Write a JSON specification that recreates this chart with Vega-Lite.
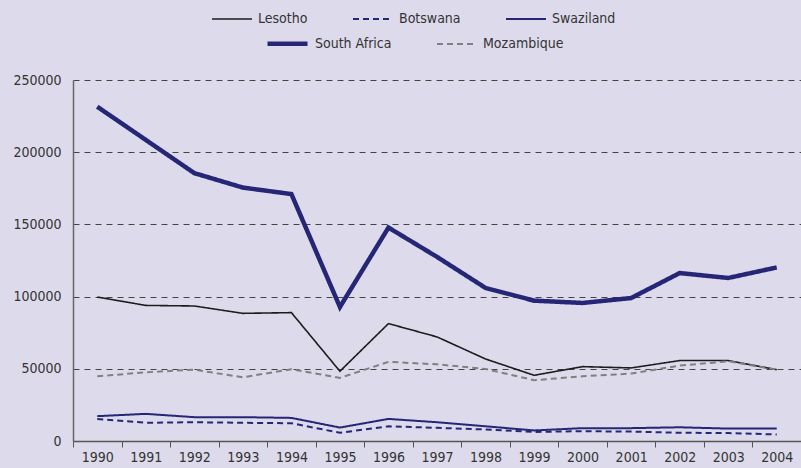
{
  "$schema": "https://vega.github.io/schema/vega-lite/v6.json",
  "autosize": {"type": "none"},
  "width": 728,
  "height": 361,
  "padding": {"left": 73, "top": 80, "right": 0, "bottom": 27},
  "background": "#dddbeb",
  "config": {
    "view": {"stroke": null},
    "font": "DejaVu Sans Condensed, DejaVu Sans, sans-serif",
    "legend": {
      "title": null, "orient": "none", "direction": "horizontal",
      "columnPadding": 41, "symbolType": "stroke", "symbolSize": 1600,
      "labelFontSize": 14, "labelColor": "#333", "labelOffset": 5, "labelLimit": 200
    }
  },
  "data": {"values": [
    {"year": "1990", "country": "Lesotho", "value": 99700},
    {"year": "1991", "country": "Lesotho", "value": 93900},
    {"year": "1992", "country": "Lesotho", "value": 93500},
    {"year": "1993", "country": "Lesotho", "value": 88400},
    {"year": "1994", "country": "Lesotho", "value": 88900},
    {"year": "1995", "country": "Lesotho", "value": 48300},
    {"year": "1996", "country": "Lesotho", "value": 81300},
    {"year": "1997", "country": "Lesotho", "value": 72100},
    {"year": "1998", "country": "Lesotho", "value": 56800},
    {"year": "1999", "country": "Lesotho", "value": 45500},
    {"year": "2000", "country": "Lesotho", "value": 51500},
    {"year": "2001", "country": "Lesotho", "value": 50600},
    {"year": "2002", "country": "Lesotho", "value": 55700},
    {"year": "2003", "country": "Lesotho", "value": 55700},
    {"year": "2004", "country": "Lesotho", "value": 49400},
    {"year": "1990", "country": "Botswana", "value": 15300},
    {"year": "1991", "country": "Botswana", "value": 12600},
    {"year": "1992", "country": "Botswana", "value": 13000},
    {"year": "1993", "country": "Botswana", "value": 12600},
    {"year": "1994", "country": "Botswana", "value": 12300},
    {"year": "1995", "country": "Botswana", "value": 5700},
    {"year": "1996", "country": "Botswana", "value": 10200},
    {"year": "1997", "country": "Botswana", "value": 9100},
    {"year": "1998", "country": "Botswana", "value": 8000},
    {"year": "1999", "country": "Botswana", "value": 6300},
    {"year": "2000", "country": "Botswana", "value": 6800},
    {"year": "2001", "country": "Botswana", "value": 6500},
    {"year": "2002", "country": "Botswana", "value": 5700},
    {"year": "2003", "country": "Botswana", "value": 5500},
    {"year": "2004", "country": "Botswana", "value": 4500},
    {"year": "1990", "country": "Swaziland", "value": 17200},
    {"year": "1991", "country": "Swaziland", "value": 18800},
    {"year": "1992", "country": "Swaziland", "value": 16500},
    {"year": "1993", "country": "Swaziland", "value": 16500},
    {"year": "1994", "country": "Swaziland", "value": 16000},
    {"year": "1995", "country": "Swaziland", "value": 9300},
    {"year": "1996", "country": "Swaziland", "value": 15300},
    {"year": "1997", "country": "Swaziland", "value": 13000},
    {"year": "1998", "country": "Swaziland", "value": 10200},
    {"year": "1999", "country": "Swaziland", "value": 7300},
    {"year": "2000", "country": "Swaziland", "value": 8900},
    {"year": "2001", "country": "Swaziland", "value": 8900},
    {"year": "2002", "country": "Swaziland", "value": 9500},
    {"year": "2003", "country": "Swaziland", "value": 8600},
    {"year": "2004", "country": "Swaziland", "value": 8600},
    {"year": "1990", "country": "South Africa", "value": 231500},
    {"year": "1991", "country": "South Africa", "value": 208500},
    {"year": "1992", "country": "South Africa", "value": 185500},
    {"year": "1993", "country": "South Africa", "value": 175500},
    {"year": "1994", "country": "South Africa", "value": 171000},
    {"year": "1995", "country": "South Africa", "value": 92800},
    {"year": "1996", "country": "South Africa", "value": 147800},
    {"year": "1997", "country": "South Africa", "value": 127500},
    {"year": "1998", "country": "South Africa", "value": 106000},
    {"year": "1999", "country": "South Africa", "value": 97200},
    {"year": "2000", "country": "South Africa", "value": 95600},
    {"year": "2001", "country": "South Africa", "value": 99000},
    {"year": "2002", "country": "South Africa", "value": 116300},
    {"year": "2003", "country": "South Africa", "value": 112900},
    {"year": "2004", "country": "South Africa", "value": 120200},
    {"year": "1990", "country": "Mozambique", "value": 44800},
    {"year": "1991", "country": "Mozambique", "value": 47600},
    {"year": "1992", "country": "Mozambique", "value": 49400},
    {"year": "1993", "country": "Mozambique", "value": 44100},
    {"year": "1994", "country": "Mozambique", "value": 49700},
    {"year": "1995", "country": "Mozambique", "value": 43700},
    {"year": "1996", "country": "Mozambique", "value": 54800},
    {"year": "1997", "country": "Mozambique", "value": 53100},
    {"year": "1998", "country": "Mozambique", "value": 49900},
    {"year": "1999", "country": "Mozambique", "value": 42100},
    {"year": "2000", "country": "Mozambique", "value": 44800},
    {"year": "2001", "country": "Mozambique", "value": 46700},
    {"year": "2002", "country": "Mozambique", "value": 52200},
    {"year": "2003", "country": "Mozambique", "value": 55200},
    {"year": "2004", "country": "Mozambique", "value": 49400}
  ]},
  "encoding": {
    "x": {
      "field": "year", "type": "ordinal",
      "scale": {"type": "point", "padding": 0.5},
      "axis": {
        "title": null, "labelAngle": 0, "labelFontSize": 14, "labelColor": "#333",
        "domainColor": "#555", "domainWidth": 1.5, "tickColor": "#555", "tickSize": 6,
        "tickOffset": -24.27, "labelOffset": 24.27, "labelPadding": 3, "grid": false
      }
    },
    "y": {
      "field": "value", "type": "quantitative",
      "scale": {"domain": [0, 250000]},
      "axis": {
        "title": null, "values": [0, 50000, 100000, 150000, 200000, 250000],
        "format": "d", "labelFontSize": 14, "labelColor": "#333", "ticks": false,
        "labelPadding": 12, "domainColor": "#666", "domainWidth": 1.5,
        "grid": true, "gridDash": [6, 5], "gridColor": "#444", "gridWidth": 1
      }
    }
  },
  "layer": [
    {
      "transform": [{"filter": {"field": "country", "oneOf": ["Lesotho", "Botswana", "Swaziland"]}}],
      "mark": {"type": "line", "strokeJoin": "miter"},
      "encoding": {
        "color": {
          "field": "country", "type": "nominal",
          "scale": {"domain": ["Lesotho", "Botswana", "Swaziland"], "range": ["#1c1c1c", "#262677", "#262677"]},
          "legend": {"legendX": 138, "legendY": -82}
        },
        "strokeDash": {
          "field": "country", "type": "nominal",
          "scale": {"domain": ["Lesotho", "Botswana", "Swaziland"], "range": [[1, 0], [6, 4], [1, 0]]}
        },
        "strokeWidth": {
          "field": "country", "type": "nominal",
          "scale": {"type": "ordinal", "domain": ["Lesotho", "Botswana", "Swaziland"], "range": [1.6, 2, 2]}
        }
      }
    },
    {
      "transform": [{"filter": {"field": "country", "oneOf": ["South Africa", "Mozambique"]}}],
      "mark": {"type": "line", "strokeJoin": "miter"},
      "encoding": {
        "color": {
          "field": "country", "type": "nominal",
          "scale": {"domain": ["South Africa", "Mozambique"], "range": ["#262677", "#808080"]},
          "legend": {"legendX": 192, "legendY": -59}
        },
        "strokeDash": {
          "field": "country", "type": "nominal",
          "scale": {"domain": ["South Africa", "Mozambique"], "range": [[1, 0], [6, 4]]}
        },
        "strokeWidth": {
          "field": "country", "type": "nominal",
          "scale": {"type": "ordinal", "domain": ["South Africa", "Mozambique"], "range": [4.5, 2]}
        }
      }
    }
  ],
  "resolve": {
    "scale": {"color": "independent", "strokeDash": "independent", "strokeWidth": "independent"},
    "legend": {"color": "independent", "strokeDash": "independent", "strokeWidth": "independent"}
  }
}
